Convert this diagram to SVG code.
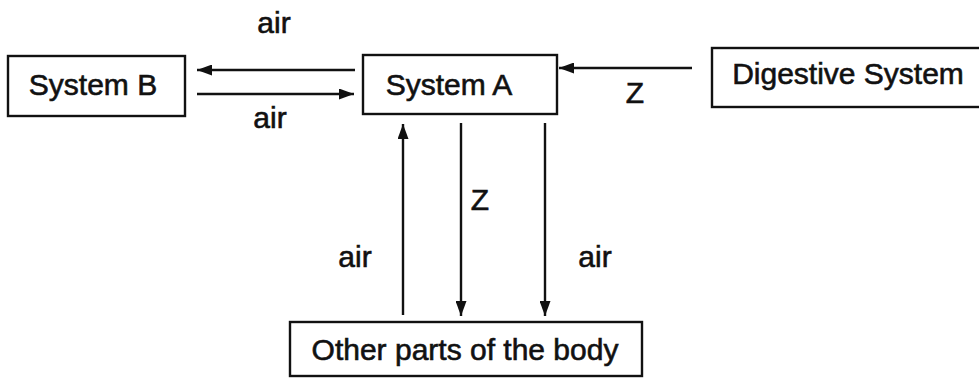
<svg xmlns="http://www.w3.org/2000/svg" width="979" height="378" viewBox="0 0 979 378">
<defs>
<marker id="ah" markerWidth="15" markerHeight="11" refX="15" refY="5.5" orient="auto" markerUnits="userSpaceOnUse">
<path d="M0,0 L15,5.5 L0,11 Z" fill="#111"/>
</marker>
<style>
.box{fill:#fff;stroke:#111;stroke-width:2.4}
.t{font-family:"Liberation Sans",Arial,sans-serif;font-size:30px;fill:#111;stroke:#111;stroke-width:0.6;text-anchor:middle}
.c{stroke:#111;stroke-width:2.4;fill:none;marker-end:url(#ah)}
</style>
</defs>
<rect width="979" height="378" fill="#fff"/>
<g id="system-b"><rect class="box" x="8" y="56" width="177" height="60"/><text class="t" x="93" y="95">System B</text></g>
<g id="system-a"><rect class="box" x="363" y="55" width="194" height="59"/><text class="t" x="449" y="95">System A</text></g>
<g id="digestive"><rect class="box" x="712" y="48" width="272" height="59"/><text class="t" x="848" y="84" font-size="29">Digestive System</text></g>
<g id="other"><rect class="box" x="290" y="322" width="352" height="54"/><text class="t" x="465" y="360">Other parts of the body</text></g>
<g id="connectors">
<line class="c" x1="355" y1="70" x2="197" y2="70"/>
<line class="c" x1="197" y1="94" x2="354" y2="94"/>
<line class="c" x1="692" y1="68" x2="559" y2="68"/>
<line class="c" x1="403" y1="315" x2="403" y2="124"/>
<line class="c" x1="461" y1="123" x2="461" y2="316"/>
<line class="c" x1="545" y1="123" x2="545" y2="316"/>
<text class="t" x="274" y="33">air</text>
<text class="t" x="270" y="128">air</text>
<text class="t" x="635" y="103">Z</text>
<text class="t" x="480" y="210">Z</text>
<text class="t" x="355" y="267">air</text>
<text class="t" x="595" y="267">air</text>
</g>
</svg>
